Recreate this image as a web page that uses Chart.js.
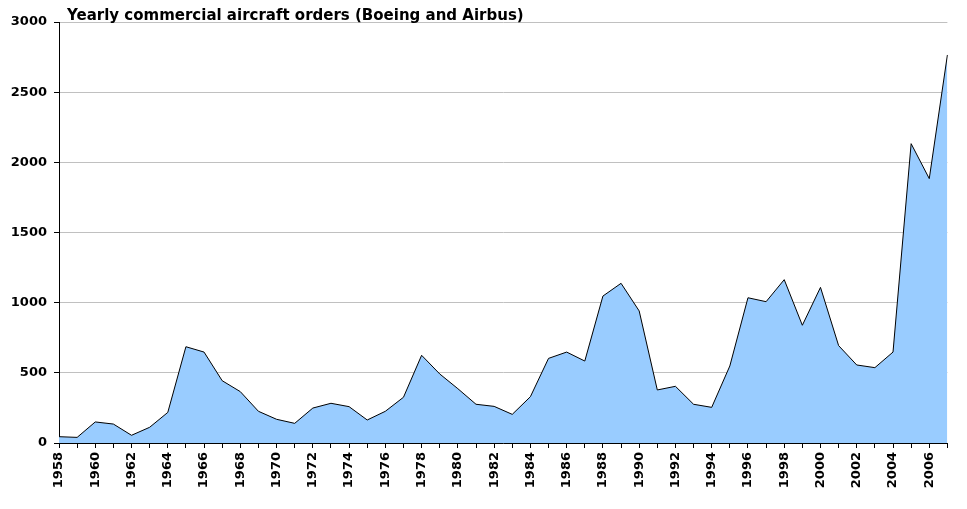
<!DOCTYPE html>
<html>
<head>
<meta charset="utf-8">
<script src="https://cdn.jsdelivr.net/npm/chart.js@4/dist/chart.umd.min.js"></script>
<style>
  html, body { margin: 0; padding: 0; background: #fff; }
  #wrap { width: 967px; height: 509px; }
</style>
</head>
<body>
<div id="wrap"><canvas id="chart1" width="967" height="509"></canvas></div>
<script>
// years on the x axis
var years = [];
for (var y = 1958; y <= 2007; y++) years.push(String(y));

// orders per year
var orders = [
    45, 40, 150, 135, 55, 112, 218, 686, 648, 444,
    366, 226, 169, 140, 249, 283, 259, 164, 226, 326,
    625, 492, 387, 276, 261, 204, 330, 603, 648, 584,
    1047, 1138, 941, 378, 404, 276, 254, 549, 1035, 1007,
    1164, 839, 1109, 694, 556, 537, 648, 2133, 1884, 2765
];

var yTicks = [0, 500, 1000, 1500, 2000, 2500, 3000];
var chartTitle = 'Yearly commercial aircraft orders (Boeing and Airbus)';

var fontFamily = '"DejaVu Sans", Verdana, sans-serif';

// title sits inside the plot, just above the top grid line
var titlePlugin = {
    id: 'insideTitle',
    afterDraw: function (chart) {
        var ctx = chart.ctx;
        var area = chart.chartArea;
        ctx.save();
        ctx.font = 'bold 15px ' + fontFamily;
        ctx.fillStyle = '#000';
        ctx.textBaseline = 'alphabetic';
        ctx.textAlign = 'left';
        ctx.fillText(chartTitle, area.left + 8, area.top - 2);
        ctx.restore();
    }
};

const data = {
    labels: years,
    datasets: [{
        label: 'Orders',
        data: orders,
        backgroundColor: '#99ccff',
        borderColor: '#000000',
        borderWidth: 1,
        fill: 'origin',
        pointRadius: 0,
        tension: 0
    }]
};

const config = {
    type: 'line',
    data: data,
    options: {
        responsive: false,
        animation: false,
        layout: {
            padding: { top: 22, right: 18, left: 0, bottom: 0 }
        },
        plugins: {
            legend: { display: false },
            title: { display: false },
            tooltip: { enabled: false }
        },
        scales: {
            x: {
                offset: false,
                border: { color: '#000', width: 1 },
                grid: {
                    drawOnChartArea: false,
                    tickLength: 5,
                    tickColor: '#000'
                },
                ticks: {
                    autoSkip: false,
                    maxRotation: 90,
                    minRotation: 90,
                    padding: 4,
                    color: '#000',
                    font: { family: fontFamily, size: 13, weight: 'bold' },
                    callback: function (value, index) {
                        return index % 2 === 0 ? years[index] : '';
                    }
                },
                afterFit: function (scale) { scale.height = 66; }
            },
            y: {
                min: 0,
                max: 3000,
                border: { color: '#000', width: 1 },
                grid: {
                    color: '#c0c0c0',
                    tickLength: 5,
                    tickColor: '#000'
                },
                afterBuildTicks: function (scale) {
                    scale.ticks = yTicks.map(function (v) { return { value: v }; });
                },
                ticks: {
                    padding: 7,
                    color: '#000',
                    font: { family: fontFamily, size: 13, weight: 'bold' },
                    callback: function (value) { return String(value); }
                },
                afterFit: function (scale) { scale.width = 59; }
            }
        }
    },
    plugins: [titlePlugin]
};

var chart1 = new Chart(
    document.getElementById('chart1'),
    config
);
</script>
</body>
</html>
